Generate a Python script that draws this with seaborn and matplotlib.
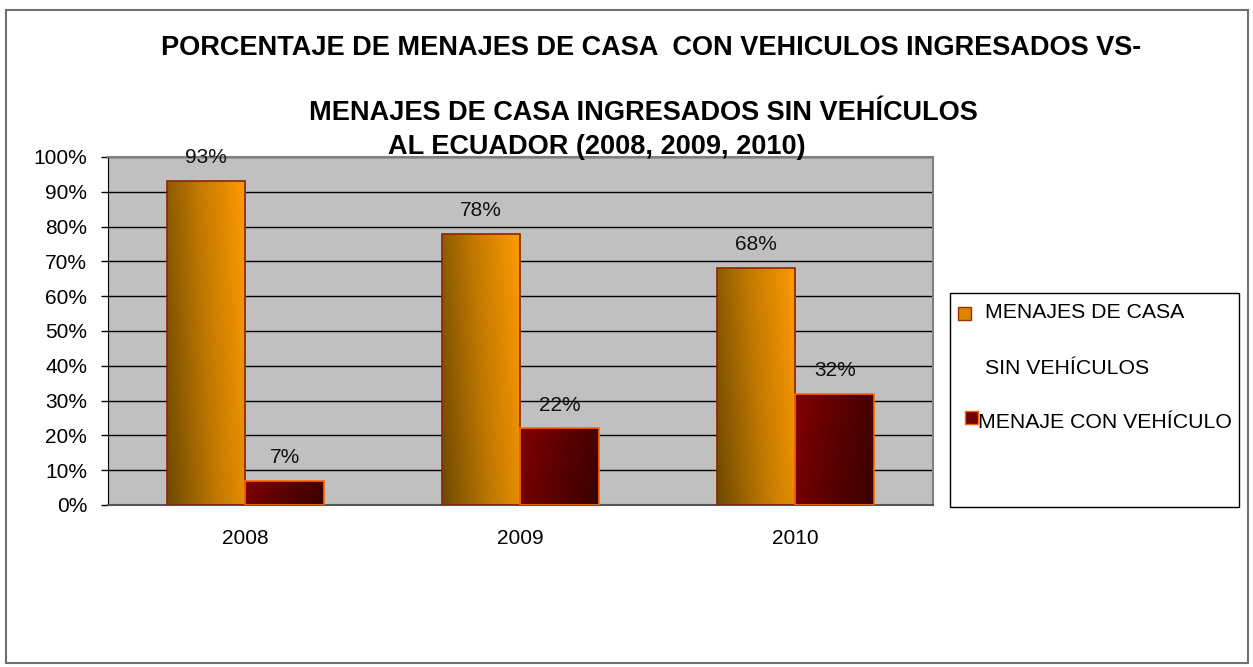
import numpy as np
import pandas as pd
import matplotlib.pyplot as plt
import matplotlib.colors as mcolors
from matplotlib.patches import Rectangle
import seaborn as sns

years = ['2008', '2009', '2010']
sin_vehiculo = [93, 78, 68]
con_vehiculo = [7, 22, 32]
series_names = ['MENAJES DE CASA SIN VEHÍCULOS', 'MENAJE CON VEHÍCULO']
y_ticks = [0, 10, 20, 30, 40, 50, 60, 70, 80, 90, 100]
y_tick_labels = ['0%', '10%', '20%', '30%', '40%', '50%', '60%', '70%', '80%', '90%', '100%']

data = pd.DataFrame({
    'year': years * 2,
    'serie': [series_names[0]] * 3 + [series_names[1]] * 3,
    'valor': sin_vehiculo + con_vehiculo,
})

sns.set_style('white')
plt.rcParams['font.family'] = ['Liberation Sans', 'DejaVu Sans']
plt.rcParams['text.color'] = 'black'
plt.rcParams['xtick.color'] = 'black'
plt.rcParams['ytick.color'] = 'black'

W, H = 1253, 667
fig = plt.figure(figsize=(W / 100, H / 100), dpi=100)

def fx(x):
    return x / W

def fy(y):
    return 1 - y / H

ax = fig.add_axes([fx(108), fy(505), fx(933) - fx(108), fy(157) - fy(505)])
ax.set_facecolor('#c0c0c0')

sns.barplot(data=data, x='year', y='valor', hue='serie', hue_order=series_names,
            palette=['#ff9900', '#800000'], width=0.57, ax=ax, legend=False,
            saturation=1)

# gradient fills like the excel chart
orange_cmap = mcolors.LinearSegmentedColormap.from_list('o', ['#6e4a00', '#c07800', '#ff9b00'])
red_cmap = mcolors.LinearSegmentedColormap.from_list('r', ['#3a0000', '#5a0000', '#820000'])
gx, gy = np.meshgrid(np.linspace(0, 1, 60), np.linspace(0, 1, 120))
grad_orange = 0.8 * gx + 0.2 * gy
grad_red = 0.8 * (1 - gx) + 0.2 * gy

for cont, cmap, grad, edge in zip(ax.containers, [orange_cmap, red_cmap],
                                  [grad_orange, grad_red], ['#8b2500', '#ff6600']):
    for bar in cont:
        x0, w = bar.get_x(), bar.get_width()
        h = bar.get_height()
        im = ax.imshow(grad, cmap=cmap, extent=[x0, x0 + w, 0, h], origin='lower',
                       aspect='auto', zorder=2, vmin=0, vmax=1)
        im.set_clip_path(bar)
        bar.set_facecolor('none')
        bar.set_edgecolor(edge)
        bar.set_linewidth(1.2)
        bar.set_zorder(3)
    ax.bar_label(cont, labels=[f'{v:.0f}%' for v in cont.datavalues],
                 padding=10, fontsize=15, color='#111111')

ax.set_xlim(-0.5, 2.5)
ax.set_ylim(0, 100)
ax.set_aspect('auto')
ax.set_yticks(y_ticks)
ax.set_yticklabels(y_tick_labels, fontsize=15)
ax.set_xticks(range(len(years)))
ax.set_xticklabels(years, fontsize=15)
ax.set_xticks([-0.5, 0.5, 1.5, 2.5], minor=True)
ax.tick_params(axis='x', which='major', length=0, pad=17)
ax.tick_params(axis='x', which='minor', length=7, width=1, color='#555555', direction='out')
ax.tick_params(axis='y', length=5, width=1, color='black', direction='out', pad=10, left=True)
ax.set_xlabel('')
ax.set_ylabel('')
ax.yaxis.grid(True, color='black', linewidth=1)
ax.set_axisbelow(True)
for side in ['top', 'right']:
    ax.spines[side].set_color('#808080')
    ax.spines[side].set_linewidth(1.5)
ax.spines['left'].set_color('black')
ax.spines['bottom'].set_color('#555555')
ax.spines['bottom'].set_linewidth(1.5)

# title
fig.text(fx(651), fy(48), 'PORCENTAJE DE MENAJES DE CASA  CON VEHICULOS INGRESADOS VS-',
         ha='center', va='center', fontsize=19.5, fontweight='bold')
fig.text(fx(643), fy(113), 'MENAJES DE CASA INGRESADOS SIN VEHÍCULOS',
         ha='center', va='center', fontsize=19.5, fontweight='bold')
fig.text(fx(597), fy(147), 'AL ECUADOR (2008, 2009, 2010)',
         ha='center', va='center', fontsize=19.5, fontweight='bold')

# legend drawn by hand
fig.patches.append(Rectangle((fx(950), fy(507)), fx(1239) - fx(950), fy(293) - fy(507),
                             transform=fig.transFigure, facecolor='white',
                             edgecolor='black', linewidth=1))
fig.patches.append(Rectangle((fx(958), fy(320)), fx(13), fx(13) * W / H,
                             transform=fig.transFigure, facecolor='#d98600',
                             edgecolor='#a03000', linewidth=1))
fig.patches.append(Rectangle((fx(965), fy(424)), fx(13), fx(13) * W / H,
                             transform=fig.transFigure, facecolor='#700000',
                             edgecolor='#ff6600', linewidth=1))
fig.text(fx(985), fy(313), 'MENAJES DE CASA', ha='left', va='center', fontsize=15.3)
fig.text(fx(985), fy(368), 'SIN VEHÍCULOS', ha='left', va='center', fontsize=15.3)
fig.text(fx(978), fy(422), 'MENAJE CON VEHÍCULO', ha='left', va='center', fontsize=15.3)

# outer border
fig.patches.append(Rectangle((fx(6), fy(663)), fx(1248) - fx(6), fy(10) - fy(663),
                             transform=fig.transFigure, facecolor='none',
                             edgecolor='#707070', linewidth=1.5))

fig.savefig('out.png', dpi=100)
